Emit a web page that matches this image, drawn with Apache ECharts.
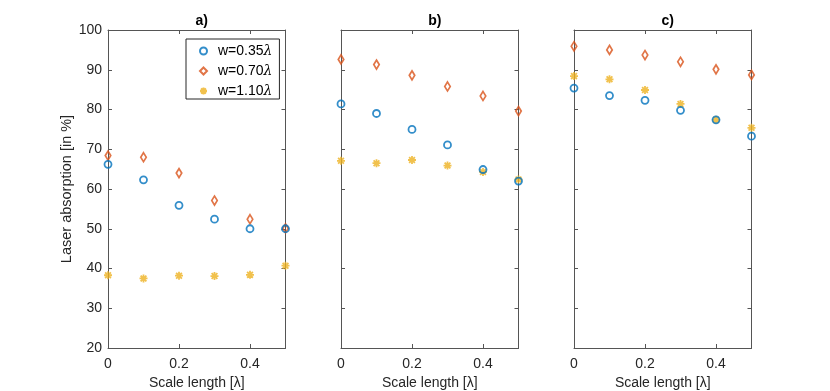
<!DOCTYPE html>
<html>
<head>
<meta charset="utf-8">
<script src="https://cdn.jsdelivr.net/npm/echarts@6/dist/echarts.min.js"></script>
<style>
  html, body { margin: 0; padding: 0; background: #fff; }
  #main { width: 830px; height: 391px; }
</style>
</head>
<body>
<div id="main"></div>
<script>
// scale length values (x axis, in lambda)
const scaleLen = [0, 0.1, 0.2, 0.3, 0.4, 0.5];
const panelTitles = ['a)', 'b)', 'c)'];
const seriesNames = ['w=0.35λ', 'w=0.70λ', 'w=1.10λ'];

// laser absorption [%] per panel, per width
const a_w035 = [66.2, 62.3, 55.9, 52.4, 50.0, 50.0];
const a_w070 = [68.4, 68.0, 64.0, 57.1, 52.4, 50.1];
const a_w110 = [38.3, 37.5, 38.2, 38.1, 38.4, 40.7];

const b_w035 = [81.4, 79.0, 75.0, 71.1, 64.9, 62.0];
const b_w070 = [92.6, 91.3, 88.6, 85.8, 83.4, 79.6];
const b_w110 = [67.1, 66.5, 67.3, 65.9, 64.3, 62.4];

const c_w035 = [85.4, 83.5, 82.3, 79.8, 77.4, 73.3];
const c_w070 = [95.9, 95.0, 93.7, 92.0, 90.1, 88.7];
const c_w110 = [88.4, 87.6, 84.9, 81.4, 77.4, 75.4];

const panels = [
    [a_w035, a_w070, a_w110],
    [b_w035, b_w070, b_w110],
    [c_w035, c_w070, c_w110]
];

const colors = ['#0072BD', '#D95319', '#EDB120'];
const asterisk = 'path://M0,-5L0,5M-5,0L5,0M-3.6,-3.6L3.6,3.6M-3.6,3.6L3.6,-3.6';
const symbols = ['circle', 'diamond', asterisk];
const symbolSizes = [7, [5.5, 9], 8];

const font = 'Liberation Sans, Arial, Helvetica, sans-serif';
const axisColor = '#262626';
const lineColor = '#555';
const gridLefts = [108, 341, 574];
const gridW = 177.5;

let grids = [], xAxes = [], yAxes = [], series = [], titles = [];

for (let p = 0; p < 3; p++) {
    grids.push({left: gridLefts[p], top: 30, width: gridW, height: 318, outerBoundsMode: 'none', containLabel: false});
    titles.push({
        text: panelTitles[p],
        left: gridLefts[p] + gridW / 2,
        top: 9,
        textAlign: 'center',
        textStyle: {fontFamily: font, fontSize: 14, fontWeight: 'bold', color: '#000'}
    });
    // bottom x axis
    xAxes.push({
        gridIndex: p, type: 'value', position: 'bottom',
        min: 0, max: 0.5, interval: 0.2,
        name: 'Scale length [λ]', nameLocation: 'middle', nameGap: 27,
        nameTextStyle: {fontFamily: font, fontSize: 14, color: axisColor},
        axisLine: {onZero: false, lineStyle: {color: lineColor, width: 1}},
        axisTick: {inside: true, length: 4, lineStyle: {color: lineColor}},
        axisLabel: {fontFamily: font, fontSize: 14, color: axisColor, margin: 9, showMaxLabel: false},
        splitLine: {show: false}
    });
    // top x axis (box + mirrored ticks)
    xAxes.push({
        gridIndex: p, type: 'value', position: 'top',
        min: 0, max: 0.5, interval: 0.2,
        axisLine: {onZero: false, lineStyle: {color: lineColor, width: 1}},
        axisTick: {inside: true, length: 4, lineStyle: {color: lineColor}},
        axisLabel: {show: false},
        splitLine: {show: false}
    });
    yAxes.push({
        gridIndex: p, type: 'value', position: 'left',
        min: 20, max: 100, interval: 10,
        name: p === 0 ? 'Laser absorption [in %]' : '',
        nameLocation: 'middle', nameGap: 34,
        nameTextStyle: {fontFamily: font, fontSize: 14.5, color: axisColor},
        axisLine: {show: true, onZero: false, lineStyle: {color: lineColor, width: 1}},
        axisTick: {show: true, inside: true, length: 4, lineStyle: {color: lineColor}},
        axisLabel: {show: p === 0, fontFamily: font, fontSize: 14, color: axisColor, margin: 6},
        splitLine: {show: false}
    });
    yAxes.push({
        gridIndex: p, type: 'value', position: 'right',
        min: 20, max: 100, interval: 10,
        axisLine: {show: true, onZero: false, lineStyle: {color: lineColor, width: 1}},
        axisTick: {show: true, inside: true, length: 4, lineStyle: {color: lineColor}},
        axisLabel: {show: false},
        splitLine: {show: false}
    });

    for (let s = 0; s < 3; s++) {
        series.push({
            name: seriesNames[s],
            type: 'scatter',
            xAxisIndex: p * 2,
            yAxisIndex: p * 2,
            symbol: symbols[s],
            symbolSize: symbolSizes[s],
            itemStyle: {color: 'rgba(0,0,0,0)', borderColor: colors[s], borderWidth: 1.8},
            emphasis: {disabled: true},
            data: scaleLen.map((x, i) => [x, panels[p][s][i]]),
            z: 10 - s
        });
    }
}

const option = {
    animation: false,
    backgroundColor: '#fff',
    title: titles,
    grid: grids,
    xAxis: xAxes,
    yAxis: yAxes,
    legend: {
        orient: 'vertical',
        left: 186, top: 39,
        padding: [5, 7, 1, 13],
        itemGap: 6,
        itemWidth: 7, itemHeight: 7,
        borderColor: axisColor, borderWidth: 1,
        backgroundColor: '#fff',
        selectedMode: false,
        data: seriesNames.map((n, s) => ({
            name: n,
            icon: symbols[s],
            itemStyle: {color: 'rgba(0,0,0,0)', borderColor: colors[s], borderWidth: 2}
        })),
        formatter: function (name) {
            return name.replace('λ', '') + '{l|λ}';
        },
        textStyle: {
            fontFamily: font, fontSize: 14, color: '#000', padding: [0, 0, 0, 6],
            rich: {l: {fontFamily: 'DejaVu Serif, serif', fontStyle: 'italic', fontSize: 14, color: '#000'}}
        }
    },
    series: series
};

echarts.init(document.getElementById('main')).setOption(option);
</script>
</body>
</html>
